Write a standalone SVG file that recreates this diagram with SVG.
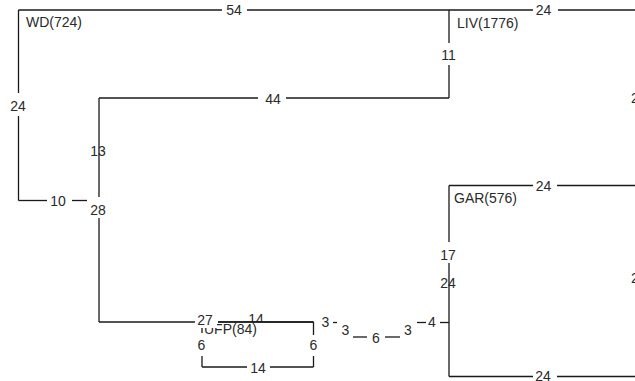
<svg xmlns="http://www.w3.org/2000/svg" width="635" height="381" viewBox="0 0 635 381">
<style>
text{font-family:"Liberation Sans",Arial,sans-serif;font-size:14px;fill:#2a2a2a}
.c{text-anchor:middle}
#connectors line{stroke:#1a1a1a;stroke-width:1.3;fill:none}
</style>
<rect width="635" height="381" fill="#fff"/>
<g id="connectors">
<line x1="18.5" y1="10" x2="222" y2="10"/>
<line x1="247" y1="10" x2="533" y2="10"/>
<line x1="558" y1="10" x2="635" y2="10"/>
<line x1="18.5" y1="10" x2="18.5" y2="93"/>
<line x1="18.5" y1="116" x2="18.5" y2="200.5"/>
<line x1="18.5" y1="200.5" x2="47" y2="200.5"/>
<line x1="72" y1="200.5" x2="87" y2="200.5"/>
<line x1="99" y1="98" x2="99" y2="197"/>
<line x1="99" y1="218" x2="99" y2="322"/>
<line x1="99" y1="98" x2="258" y2="98"/>
<line x1="286" y1="98" x2="449" y2="98"/>
<line x1="449" y1="10" x2="449" y2="43"/>
<line x1="449" y1="65" x2="449" y2="98"/>
<line x1="449" y1="185.5" x2="533" y2="185.5"/>
<line x1="557" y1="185.5" x2="635" y2="185.5"/>
<line x1="449" y1="185.5" x2="449" y2="242"/>
<line x1="449" y1="263" x2="449" y2="376.5"/>
<line x1="449" y1="376.5" x2="533" y2="376.5"/>
<line x1="557" y1="376.5" x2="635" y2="376.5"/>
<line x1="417" y1="322.5" x2="426" y2="322.5"/>
<line x1="440" y1="322.5" x2="449" y2="322.5"/>
<line x1="99" y1="322" x2="195" y2="322"/>
<line x1="218" y1="322" x2="313.5" y2="322"/>
<line x1="202" y1="322" x2="202" y2="333"/>
<line x1="202" y1="356" x2="202" y2="367"/>
<line x1="202" y1="367" x2="247" y2="367"/>
<line x1="270" y1="367" x2="313.5" y2="367"/>
<line x1="313.5" y1="322" x2="313.5" y2="335"/>
<line x1="313.5" y1="356" x2="313.5" y2="367"/>
<line x1="333" y1="322.5" x2="337" y2="322.5"/>
<line x1="353" y1="337" x2="367" y2="337"/>
<line x1="385" y1="337" x2="400" y2="337"/>
</g>
<g id="edge-labels">
<text class="c" x="234" y="15">54</text>
<text class="c" x="543.5" y="15">24</text>
<text class="c" x="18" y="111">24</text>
<text class="c" x="58" y="206">10</text>
<text class="c" x="98" y="156">13</text>
<text class="c" x="98" y="215">28</text>
<text class="c" x="273" y="104">44</text>
<text class="c" x="448.5" y="60">11</text>
<text x="631" y="103">24</text>
<text x="631" y="283">24</text>
<text class="c" x="543.5" y="191">24</text>
<text class="c" x="448" y="260">17</text>
<text class="c" x="448" y="288">24</text>
<text class="c" x="543" y="381">24</text>
<text class="c" x="432" y="327">4</text>
<text class="c" x="325.5" y="327">3</text>
<text class="c" x="345.5" y="335">3</text>
<text class="c" x="376" y="343">6</text>
<text class="c" x="408" y="335">3</text>
<text class="c" x="258" y="373">14</text>
<text class="c" x="313.5" y="350">6</text>
</g>
<g id="node-WD"><text x="26" y="27">WD(724)</text></g>
<g id="node-LIV"><text x="457" y="28">LIV(1776)</text></g>
<g id="node-GAR"><text x="454" y="203">GAR(576)</text></g>
<g id="node-UFP">
<text class="c" x="256" y="324">14</text>
<rect x="203" y="322.8" width="62" height="14" fill="#fff"/>
<line x1="218" y1="322" x2="313.5" y2="322" stroke="#1a1a1a" stroke-width="1.3"/>
<text x="204" y="334">UFP(84)</text>
<rect x="195" y="310" width="22" height="18" fill="#fff"/>
<text class="c" x="205" y="325">27</text>
<rect x="196" y="335" width="12" height="20" fill="#fff"/>
<text class="c" x="201.5" y="350">6</text>
</g>
</svg>
